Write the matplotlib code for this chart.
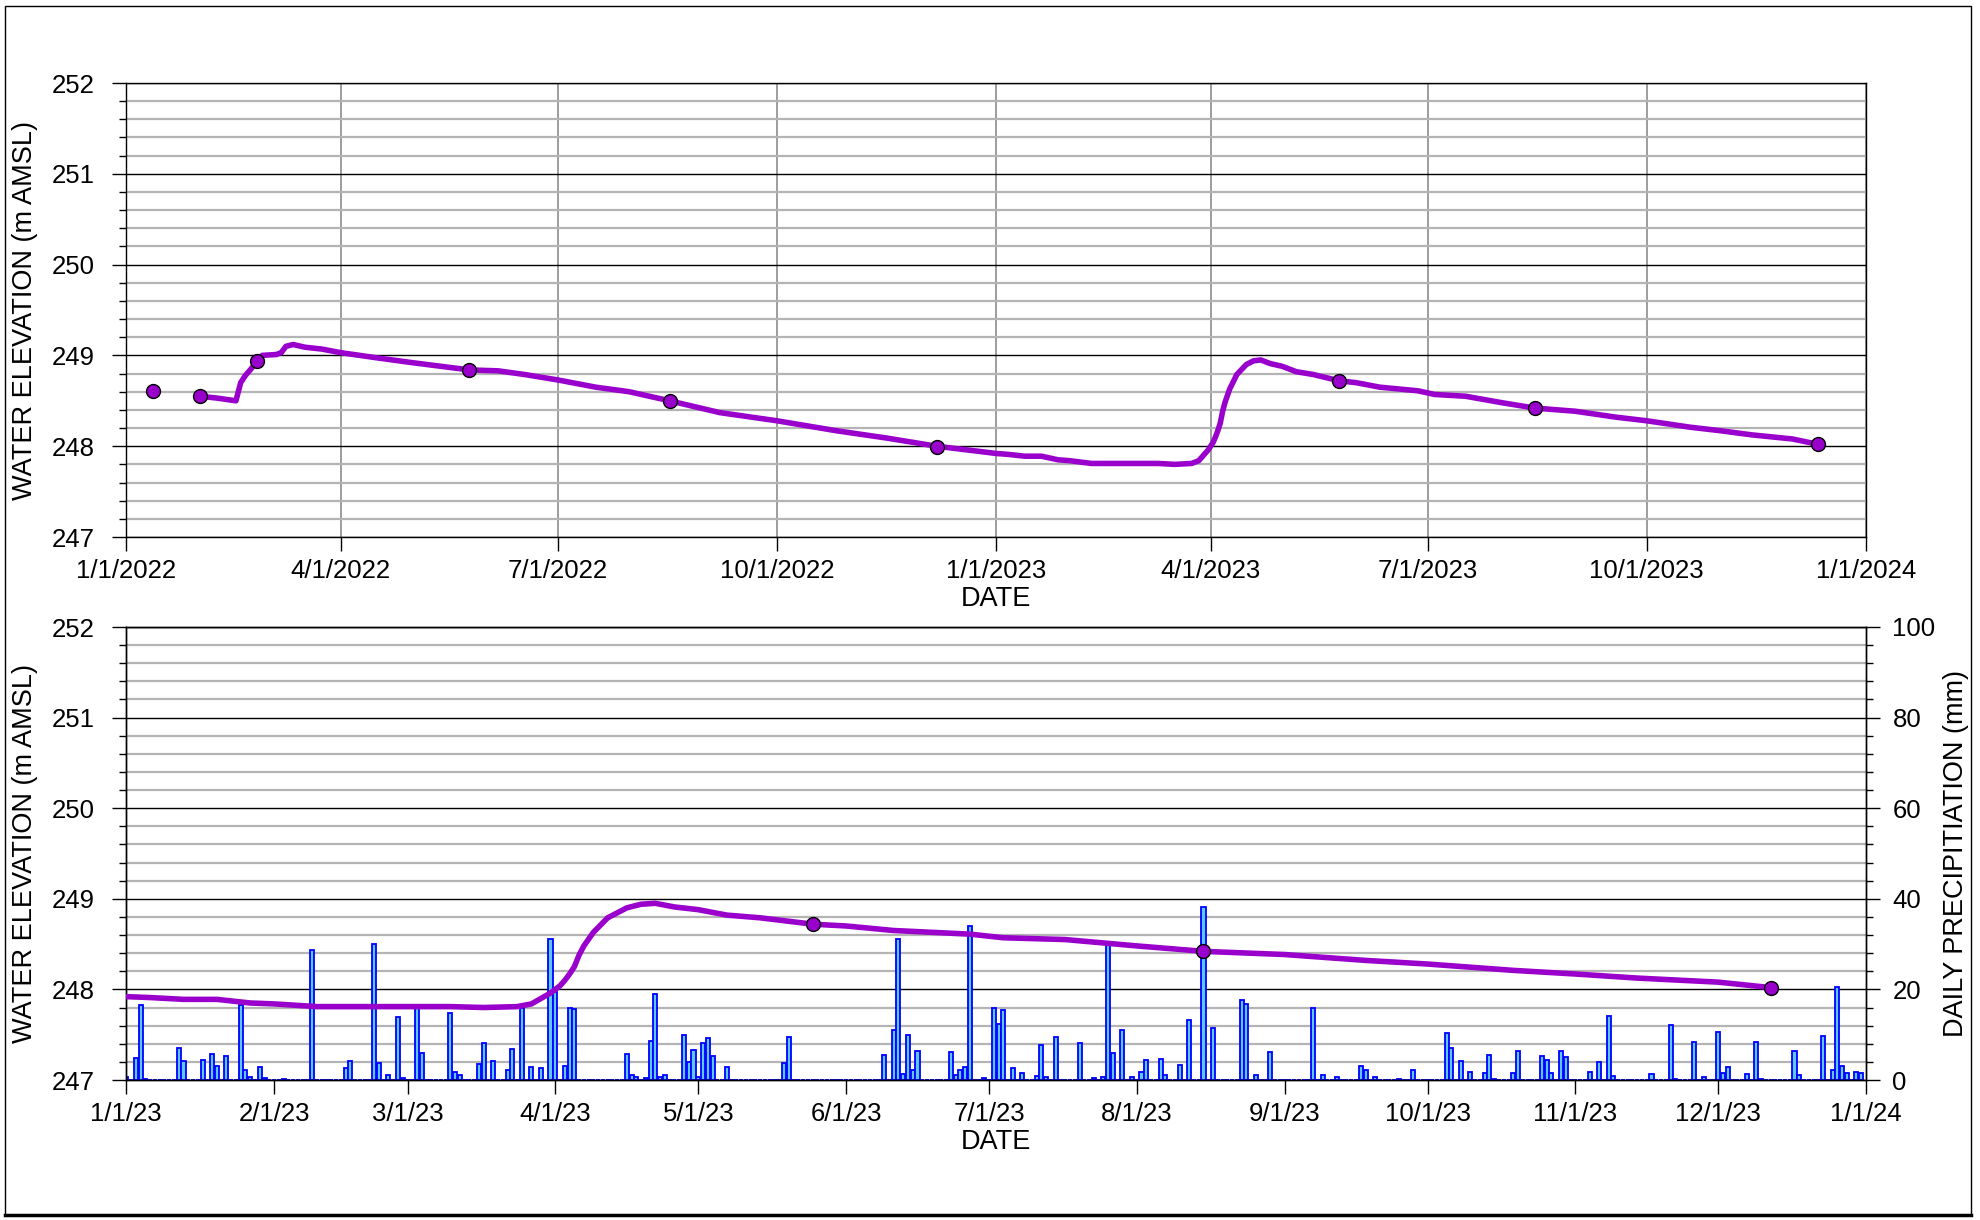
import matplotlib
matplotlib.use('Agg')
import matplotlib.pyplot as plt
import pandas as pd
from matplotlib.ticker import MultipleLocator, FixedLocator
from matplotlib.patches import Rectangle
from matplotlib.lines import Line2D

plt.rcParams['font.family'] = ['Liberation Sans', 'DejaVu Sans']

# ---------------- data ----------------
level_dates = [
    '2022-02-01', '2022-02-08', '2022-02-16', '2022-02-18', '2022-02-20', '2022-02-22',
    '2022-02-25', '2022-02-27', '2022-03-05', '2022-03-07', '2022-03-09', '2022-03-12',
    '2022-03-17', '2022-03-24', '2022-04-01', '2022-04-17', '2022-05-01', '2022-05-25',
    '2022-06-06', '2022-06-17', '2022-07-01', '2022-07-17', '2022-07-31', '2022-08-17',
    '2022-09-07', '2022-10-01', '2022-10-26', '2022-11-16', '2022-12-07', '2023-01-01',
    '2023-01-06', '2023-01-13', '2023-01-20', '2023-01-27', '2023-02-01', '2023-02-10',
    '2023-02-17', '2023-03-01', '2023-03-10', '2023-03-17', '2023-03-24', '2023-03-27',
    '2023-03-29', '2023-03-31', '2023-04-02', '2023-04-03', '2023-04-04', '2023-04-05',
    '2023-04-06', '2023-04-07', '2023-04-09', '2023-04-12', '2023-04-16', '2023-04-19',
    '2023-04-22', '2023-04-26', '2023-05-01', '2023-05-07', '2023-05-14', '2023-05-25',
    '2023-06-01', '2023-06-11', '2023-06-27', '2023-07-04', '2023-07-17', '2023-08-01',
    '2023-08-15', '2023-09-01', '2023-09-18', '2023-10-01', '2023-10-19', '2023-11-01',
    '2023-11-14', '2023-12-01', '2023-12-12',
]
level_values = [
    248.55, 248.53, 248.50, 248.70, 248.78, 248.84,
    248.94, 249.00, 249.01, 249.03, 249.10, 249.12,
    249.09, 249.07, 249.03, 248.97, 248.92, 248.84,
    248.83, 248.79, 248.73, 248.65, 248.60, 248.50,
    248.37, 248.28, 248.17, 248.09, 248.00, 247.92,
    247.91, 247.89, 247.89, 247.85, 247.84, 247.81,
    247.81, 247.81, 247.81, 247.80, 247.81, 247.84,
    247.90, 247.96, 248.04, 248.10, 248.17, 248.25,
    248.38, 248.48, 248.63, 248.79, 248.90, 248.94,
    248.95, 248.91, 248.88, 248.82, 248.79, 248.72,
    248.70, 248.65, 248.61, 248.57, 248.55, 248.48,
    248.42, 248.385, 248.32, 248.28, 248.21, 248.17,
    248.125, 248.08, 248.02,
]

manual_dates = ['2022-01-12', '2022-02-01', '2022-02-25', '2022-05-25', '2022-08-17',
                '2022-12-07', '2023-05-25', '2023-08-15', '2023-12-12']
manual_values = [248.61, 248.55, 248.94, 248.84, 248.50, 247.99, 248.72, 248.42, 248.02]

precip_dates = [
    '2023-01-01', '2023-01-03', '2023-01-04', '2023-01-05', '2023-01-12', '2023-01-13',
    '2023-01-17', '2023-01-19', '2023-01-20', '2023-01-22', '2023-01-25', '2023-01-26',
    '2023-01-27', '2023-01-29', '2023-01-30', '2023-02-03', '2023-02-09', '2023-02-16',
    '2023-02-17', '2023-02-22', '2023-02-23', '2023-02-25', '2023-02-27', '2023-02-28',
    '2023-03-03', '2023-03-04', '2023-03-10', '2023-03-11', '2023-03-12', '2023-03-16',
    '2023-03-17', '2023-03-19', '2023-03-22', '2023-03-23', '2023-03-25', '2023-03-27',
    '2023-03-29', '2023-03-31', '2023-04-01', '2023-04-03', '2023-04-04', '2023-04-05',
    '2023-04-16', '2023-04-17', '2023-04-18', '2023-04-20', '2023-04-21', '2023-04-22',
    '2023-04-23', '2023-04-24', '2023-04-28', '2023-04-29', '2023-04-30', '2023-05-01',
    '2023-05-02', '2023-05-03', '2023-05-04', '2023-05-07', '2023-05-19', '2023-05-20',
    '2023-06-09', '2023-06-11', '2023-06-12', '2023-06-13', '2023-06-14', '2023-06-15',
    '2023-06-16', '2023-06-23', '2023-06-24', '2023-06-25', '2023-06-26', '2023-06-27',
    '2023-06-30', '2023-07-02', '2023-07-03', '2023-07-04', '2023-07-06', '2023-07-08',
    '2023-07-11', '2023-07-12', '2023-07-13', '2023-07-15', '2023-07-20', '2023-07-23',
    '2023-07-25', '2023-07-26', '2023-07-27', '2023-07-29', '2023-07-31', '2023-08-02',
    '2023-08-03', '2023-08-06', '2023-08-07', '2023-08-10', '2023-08-12', '2023-08-15',
    '2023-08-17', '2023-08-23', '2023-08-24', '2023-08-26', '2023-08-29', '2023-09-07',
    '2023-09-09', '2023-09-12', '2023-09-17', '2023-09-18', '2023-09-20', '2023-09-25',
    '2023-09-28', '2023-10-05', '2023-10-06', '2023-10-08', '2023-10-10', '2023-10-13',
    '2023-10-14', '2023-10-15', '2023-10-19', '2023-10-20', '2023-10-25', '2023-10-26',
    '2023-10-27', '2023-10-29', '2023-10-30', '2023-11-04', '2023-11-06', '2023-11-08',
    '2023-11-09', '2023-11-17', '2023-11-21', '2023-11-22', '2023-11-26', '2023-11-28',
    '2023-12-01', '2023-12-02', '2023-12-03', '2023-12-07', '2023-12-09', '2023-12-10',
    '2023-12-17', '2023-12-18', '2023-12-23', '2023-12-25', '2023-12-26', '2023-12-27',
    '2023-12-28', '2023-12-30', '2023-12-31',
]
precip_values = [
    0.6, 4.8, 16.6, 0.3, 7.0, 4.2,
    4.4, 5.7, 3.2, 5.3, 16.6, 2.3,
    0.6, 2.9, 0.4, 0.3, 28.6, 2.6,
    4.2, 30.1, 3.7, 1.0, 14.0, 0.4,
    16.0, 5.9, 14.9, 1.8, 1.0, 3.5,
    8.1, 4.2, 2.2, 6.8, 16.0, 2.8,
    2.6, 31.1, 19.5, 3.0, 15.8, 15.6,
    5.7, 1.0, 0.6, 0.4, 8.6, 19.0,
    0.6, 1.1, 10.0, 3.9, 6.6, 0.7,
    8.1, 9.2, 5.3, 2.8, 3.7, 9.4,
    5.5, 11.0, 31.2, 1.3, 10.0, 2.3,
    6.4, 6.1, 1.0, 2.1, 2.9, 34.1,
    0.4, 15.8, 12.3, 15.4, 2.6, 1.5,
    0.8, 7.7, 0.6, 9.6, 8.1, 0.4,
    0.6, 30.5, 5.9, 11.0, 0.6, 1.8,
    4.4, 4.6, 1.0, 3.3, 13.2, 38.2,
    11.4, 17.6, 16.7, 1.0, 6.1, 15.8,
    1.2, 0.6, 3.2, 2.2, 0.6, 0.2,
    2.2, 10.3, 7.0, 4.2, 1.8, 1.5,
    5.6, 0.3, 1.5, 6.4, 5.3, 4.4,
    1.5, 6.3, 5.1, 1.8, 4.0, 14.1,
    0.8, 1.3, 12.2, 0.2, 8.4, 0.7,
    10.5, 1.5, 2.9, 1.3, 8.3, 0.2,
    6.4, 1.2, 9.7, 2.2, 20.6, 3.0,
    1.5, 1.7, 1.5,
]

top_tick_dates = ['2022-01-01', '2022-04-01', '2022-07-01', '2022-10-01', '2023-01-01',
                  '2023-04-01', '2023-07-01', '2023-10-01', '2024-01-01']
top_tick_labels = ['1/1/2022', '4/1/2022', '7/1/2022', '10/1/2022', '1/1/2023',
                   '4/1/2023', '7/1/2023', '10/1/2023', '1/1/2024']
bottom_tick_dates = ['2023-%02d-01' % m for m in range(1, 13)] + ['2024-01-01']
bottom_tick_labels = ['%d/1/23' % m for m in range(1, 13)] + ['1/1/24']

# ---------------- styling ----------------
LINE_C = '#9900CC'
BAR_FACE = '#5CC8FF'
BAR_EDGE = '#0000FF'
FS = 18.5
FS_LAB = 19.5
W, H = 1981, 1220

ld = pd.to_datetime(level_dates)
md = pd.to_datetime(manual_dates)
days = pd.date_range('2023-01-01', '2023-12-31', freq='D')
precip = pd.Series(0.0, index=days)
precip[pd.to_datetime(precip_dates)] = precip_values

fig = plt.figure(figsize=(W / 100, H / 100), dpi=100)


def rect(l, t, r, b):
    return [l / W, 1 - b / H, (r - l) / W, (b - t) / H]


def style_elev_axis(ax):
    ax.set_ylim(247, 252)
    ax.yaxis.set_major_locator(MultipleLocator(1))
    ax.yaxis.set_minor_locator(MultipleLocator(0.2))
    ax.tick_params(axis='y', which='major', direction='out', length=10, width=1,
                   pad=13, labelsize=FS)
    ax.tick_params(axis='y', which='minor', direction='out', length=5, width=1)
    ax.tick_params(axis='x', which='major', direction='out', length=10, width=1,
                   pad=6, labelsize=FS)
    ax.tick_params(axis='x', which='minor', length=0)
    for s in ax.spines.values():
        s.set_color('black')
        s.set_linewidth(1)
    ax.set_ylabel('WATER ELEVATION (m AMSL)', fontsize=FS_LAB, va='center')
    ax.yaxis.set_label_coords(-0.058, 0.5)
    ax.set_xlabel('DATE', fontsize=FS_LAB)
    ax.xaxis.set_label_coords(0.5, -0.137)
    ax.xaxis.label.set_va('center')


def style_grid(ax):
    ax.set_axisbelow(True)
    ax.grid(which='major', axis='x', color='#8C8C8C', lw=1.2)
    ax.grid(which='major', axis='y', color='black', lw=1.0)
    ax.grid(which='minor', axis='y', color='#B4B4B4', lw=1.6)


# ---------------- top panel ----------------
ax1 = fig.add_axes(rect(126.3, 83, 1866, 537))
style_grid(ax1)
ax1.plot(ld, level_values, color=LINE_C, lw=4, zorder=3, solid_joinstyle='round')
ax1.plot(md, manual_values, linestyle='none', marker='o', ms=10, mfc=LINE_C,
         mec='black', mew=1, zorder=4)
ax1.set_xlim(pd.Timestamp('2022-01-01'), pd.Timestamp('2024-01-01'))
ax1.xaxis.set_major_locator(FixedLocator(matplotlib.dates.date2num(pd.to_datetime(top_tick_dates))))
ax1.set_xticklabels(top_tick_labels)
style_elev_axis(ax1)

# ---------------- bottom panel ----------------
ax2 = fig.add_axes(rect(126.3, 627, 1866, 1080))
axp = ax2.twinx()
ax2.set_zorder(3)
axp.set_zorder(2)
ax2.patch.set_visible(False)
axp.patch.set_visible(True)
axp.patch.set_facecolor('white')

ax2.set_xlim(pd.Timestamp('2023-01-01'), pd.Timestamp('2024-01-01'))
ax2.xaxis.set_major_locator(FixedLocator(matplotlib.dates.date2num(pd.to_datetime(bottom_tick_dates))))
ax2.set_xticklabels(bottom_tick_labels)

axp.set_ylim(0, 100)
axp.yaxis.set_major_locator(MultipleLocator(20))
axp.yaxis.set_minor_locator(MultipleLocator(4))
style_grid(axp)
axp.bar(precip.index, precip.values, width=0.85, color=BAR_FACE, edgecolor=BAR_EDGE,
        linewidth=1.3, zorder=2)
axp.tick_params(axis='y', which='major', direction='out', length=10, width=1,
                pad=9, labelsize=FS)
axp.tick_params(axis='y', which='minor', direction='out', length=5, width=1)
axp.set_ylabel('DAILY PRECIPITIATION (mm)', fontsize=FS_LAB, va='center', rotation=90)
axp.yaxis.set_label_coords(1.052, 0.5)
for s in axp.spines.values():
    s.set_color('black')
    s.set_linewidth(1)

ax2.plot(ld, level_values, color=LINE_C, lw=4, zorder=3, solid_joinstyle='round')
ax2.plot(md, manual_values, linestyle='none', marker='o', ms=10, mfc=LINE_C,
         mec='black', mew=1, zorder=4)
style_elev_axis(ax2)

# ---------------- outer frame ----------------
x0, x1 = 5 / W, 1971 / W
y0, y1 = 5 / H, 1 - 6 / H
fig.add_artist(Rectangle((x0, y0), x1 - x0, y1 - y0, transform=fig.transFigure,
                         fill=False, edgecolor='black', lw=1))
fig.add_artist(Line2D([x0, x1], [y0, y0], transform=fig.transFigure, color='black', lw=2.5))

fig.savefig('out.png', dpi=100, facecolor='white')
